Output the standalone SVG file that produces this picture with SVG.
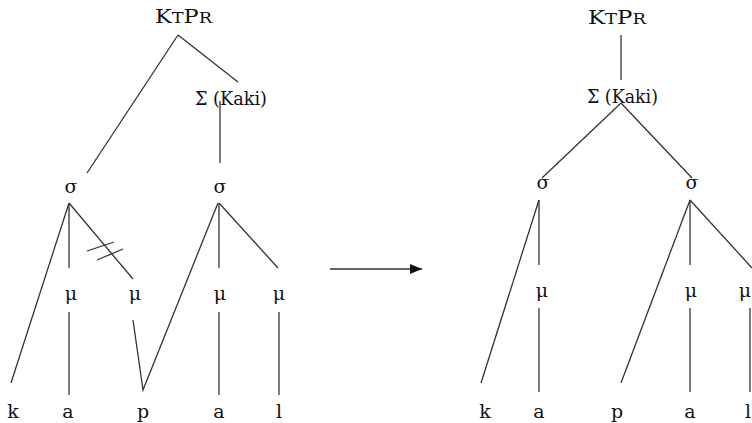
<svg xmlns="http://www.w3.org/2000/svg" width="752" height="423" viewBox="0 0 752 423">
<style>
.t{font-family:"DejaVu Serif","Liberation Serif",serif;font-size:19px;fill:#111;text-anchor:middle}
.sc{font-size:15px}
.e line,.e polyline{stroke:#333;stroke-width:1.3;fill:none}
</style>
<defs>
<marker id="ah" viewBox="0 0 12 10" refX="12" refY="5" markerWidth="12" markerHeight="10" markerUnits="userSpaceOnUse" orient="auto">
<path d="M0,0 L12,5 L0,10 Z" fill="#111"/>
</marker>
</defs>
<rect width="752" height="423" fill="#fff"/>
<g id="connectors" class="e">
<line x1="178" y1="35" x2="87" y2="173"/>
<line x1="178" y1="35" x2="238" y2="82"/>
<line x1="220" y1="101" x2="220" y2="163"/>
<line x1="69" y1="203" x2="11" y2="383"/>
<line x1="69" y1="203" x2="69" y2="268"/>
<line x1="69" y1="203" x2="133" y2="279"/>
<line x1="87" y1="251" x2="114" y2="242"/>
<line x1="97" y1="260" x2="123" y2="249"/>
<line x1="69" y1="312" x2="69" y2="395"/>
<polyline points="133,320 143,390 218,203"/>
<line x1="219" y1="203" x2="219" y2="268"/>
<line x1="219" y1="203" x2="278" y2="268"/>
<line x1="219" y1="312" x2="219" y2="395"/>
<line x1="279" y1="312" x2="279" y2="395"/>
<line x1="330" y1="269" x2="422" y2="269" stroke="#111" stroke-width="1.5" marker-end="url(#ah)"/>
<line x1="621" y1="35" x2="621" y2="80"/>
<line x1="621" y1="103" x2="542" y2="178"/>
<line x1="621" y1="103" x2="692" y2="178"/>
<line x1="539" y1="200" x2="539" y2="265"/>
<line x1="539" y1="200" x2="481" y2="383"/>
<line x1="539" y1="308" x2="539" y2="392"/>
<line x1="690" y1="200" x2="621" y2="383"/>
<line x1="690" y1="200" x2="690" y2="265"/>
<line x1="690" y1="200" x2="752" y2="268"/>
<line x1="690" y1="308" x2="690" y2="392"/>
<line x1="750" y1="308" x2="750" y2="392"/>
</g>
<g id="L-ktpr"><text class="t" x="183.5" y="23" textLength="57" lengthAdjust="spacingAndGlyphs">K<tspan class="sc">T</tspan>P<tspan class="sc">R</tspan></text></g>
<g id="L-sigma-kaki"><text class="t" x="231" y="105" textLength="72" lengthAdjust="spacingAndGlyphs">Σ (Kaki)</text></g>
<g id="L-syl1"><text class="t" x="71" y="193">σ</text></g>
<g id="L-syl2"><text class="t" x="220" y="193">σ</text></g>
<g id="L-mu1"><text class="t" x="71" y="300">μ</text></g>
<g id="L-mu2"><text class="t" x="135" y="300">μ</text></g>
<g id="L-mu3"><text class="t" x="220" y="300">μ</text></g>
<g id="L-mu4"><text class="t" x="279" y="300">μ</text></g>
<g id="L-k"><text class="t" x="13" y="418">k</text></g>
<g id="L-a1"><text class="t" x="68" y="418">a</text></g>
<g id="L-p"><text class="t" x="143" y="418">p</text></g>
<g id="L-a2"><text class="t" x="219" y="418">a</text></g>
<g id="L-l"><text class="t" x="279" y="418">l</text></g>
<g id="R-ktpr"><text class="t" x="617" y="24" textLength="58" lengthAdjust="spacingAndGlyphs">K<tspan class="sc">T</tspan>P<tspan class="sc">R</tspan></text></g>
<g id="R-sigma-kaki"><text class="t" x="622.5" y="103" textLength="71" lengthAdjust="spacingAndGlyphs">Σ (Kaki)</text></g>
<g id="R-syl1"><text class="t" x="543" y="189">σ</text></g>
<g id="R-syl2"><text class="t" x="692" y="189">σ</text></g>
<g id="R-mu1"><text class="t" x="542" y="297">μ</text></g>
<g id="R-mu2"><text class="t" x="691" y="297">μ</text></g>
<g id="R-mu3"><text class="t" x="745" y="297">μ</text></g>
<g id="R-k"><text class="t" x="485" y="418">k</text></g>
<g id="R-a1"><text class="t" x="539" y="418">a</text></g>
<g id="R-p"><text class="t" x="617" y="418">p</text></g>
<g id="R-a2"><text class="t" x="690" y="418">a</text></g>
<g id="R-l"><text class="t" x="748" y="418">l</text></g>
</svg>
